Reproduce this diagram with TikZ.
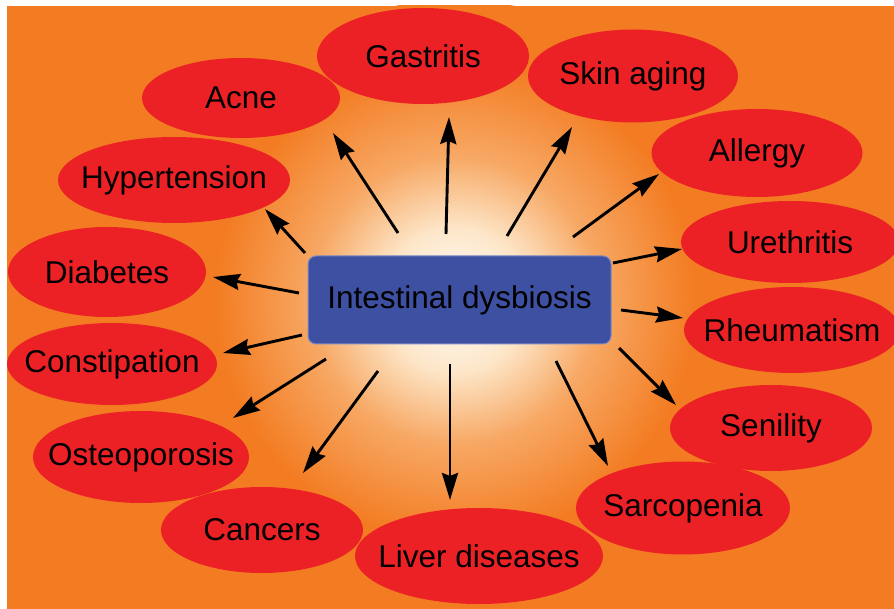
\documentclass[tikz,border=0pt]{standalone}
\usepackage{fontspec}
\setmainfont{Liberation Sans}
\usetikzlibrary{arrows.meta,shapes.geometric,positioning}
\definecolor{dysorange}{RGB}{243,124,34}
\definecolor{illred}{RGB}{236,33,38}
\definecolor{boxblue}{RGB}{62,80,162}
\definecolor{boxedge}{RGB}{125,138,196}
\definecolor{glowA}{RGB}{253,230,200}
\definecolor{glowB}{RGB}{247,168,100}
\pgfdeclareradialshading{glow}{\pgfpoint{0bp}{0bp}}{color(0bp)=(white); color(6bp)=(glowA); color(12bp)=(glowB); color(20bp)=(dysorange); color(50bp)=(dysorange)}
\newcommand{\zw}[1]{\makebox[0pt]{#1}}

\begin{document}
\begin{tikzpicture}[x=1pt, y=-1pt, font=\fontsize{31.5}{36}\selectfont,
    ill/.style={ellipse, fill=illred, inner sep=0pt},
    arr/.style={-{Stealth[length=27pt,width=16pt,inset=3pt]}, line width=2.9pt, black}]
    \useasboundingbox (0,0) rectangle (894,609);
    % background and glow
    \fill[dysorange] (7,6) rectangle (894,609);
    \begin{scope}
        \clip (7,6) rectangle (894,609);
        \shade[shading=glow] (455,300) circle (300);
    \end{scope}
    % centre box
    \node[draw=boxedge, fill=boxblue, line width=1pt, rounded corners=8pt, minimum width=303pt, minimum height=88pt] (dysb) at (459.5,300) {Intestinal dysbiosis};
    % conditions
    \node[ill, minimum width=198pt, minimum height=80pt] (acne) at (241,98) {\zw{Acne}};
    \node[ill, minimum width=212pt, minimum height=96pt] (gastritis) at (423,56) {\zw{Gastritis}};
    \node[ill, minimum width=210pt, minimum height=93pt] (skin) at (633,76) {\zw{Skin aging}};
    \node[ill, minimum width=211pt, minimum height=88pt] (allergy) at (757,153) {\zw{Allergy}};
    \node[ill, minimum width=232pt, minimum height=86pt] (hyper) at (174,180) {\zw{Hypertension}};
    \node[ill, minimum width=218pt, minimum height=82pt] (ureth) at (790,242) {\zw{Urethritis}};
    \node[ill, minimum width=198pt, minimum height=90pt] (diab) at (107,272) {\zw{Diabetes}};
    \node[ill, minimum width=216pt, minimum height=86pt] (rheum) at (792,330) {\zw{Rheumatism}};
    \node[ill, minimum width=210pt, minimum height=82pt] (const) at (112,364) {\zw{Constipation}};
    \node[ill, minimum width=216pt, minimum height=92pt] (osteo) at (141,457) {\zw{Osteoporosis}};
    \node[ill, minimum width=202pt, minimum height=86pt] (cancers) at (262,530) {\zw{Cancers}};
    \node[ill, minimum width=248pt, minimum height=96pt] (liver) at (479,556) {\zw{Liver diseases}};
    \node[ill, minimum width=214pt, minimum height=93pt] (sarco) at (683,508) {\zw{Sarcopenia}};
    \node[ill, minimum width=202pt, minimum height=86pt] (senility) at (771,428) {\zw{Senility}};
    % arrow ends
    \coordinate (acne-s) at (398,233);      \coordinate (acne-e) at (333,133);
    \coordinate (gastritis-s) at (446,234); \coordinate (gastritis-e) at (449,117);
    \coordinate (skin-s) at (507,236);      \coordinate (skin-e) at (572,127);
    \coordinate (allergy-s) at (573,237);   \coordinate (allergy-e) at (659,174);
    \coordinate (ureth-s) at (613,263);     \coordinate (ureth-e) at (682,249);
    \coordinate (rheum-s) at (621,310);     \coordinate (rheum-e) at (683,318);
    \coordinate (senility-s) at (619,348);  \coordinate (senility-e) at (676,405);
    \coordinate (sarco-s) at (556,361);     \coordinate (sarco-e) at (608,466);
    \coordinate (liver-s) at (450,364);     \coordinate (liver-e) at (450,500);
    \coordinate (cancers-s) at (378,371);   \coordinate (cancers-e) at (303,473);
    \coordinate (osteo-s) at (326,359);     \coordinate (osteo-e) at (233,418);
    \coordinate (const-s) at (302,335);     \coordinate (const-e) at (223,353);
    \coordinate (diab-s) at (299,293);      \coordinate (diab-e) at (213,277);
    \coordinate (hyper-s) at (305,253);     \coordinate (hyper-e) at (265,209);
    % arrows
    \draw[arr] (acne-s) -- (acne-e);
    \draw[arr] (gastritis-s) -- (gastritis-e);
    \draw[arr] (skin-s) -- (skin-e);
    \draw[arr] (allergy-s) -- (allergy-e);
    \draw[arr] (ureth-s) -- (ureth-e);
    \draw[arr] (rheum-s) -- (rheum-e);
    \draw[arr] (senility-s) -- (senility-e);
    \draw[arr] (sarco-s) -- (sarco-e);
    \draw[arr] (liver-s) -- (liver-e);
    \draw[arr] (cancers-s) -- (cancers-e);
    \draw[arr] (osteo-s) -- (osteo-e);
    \draw[arr] (const-s) -- (const-e);
    \draw[arr] (diab-s) -- (diab-e);
    \draw[arr] (hyper-s) -- (hyper-e);
\end{tikzpicture}
\end{document}
